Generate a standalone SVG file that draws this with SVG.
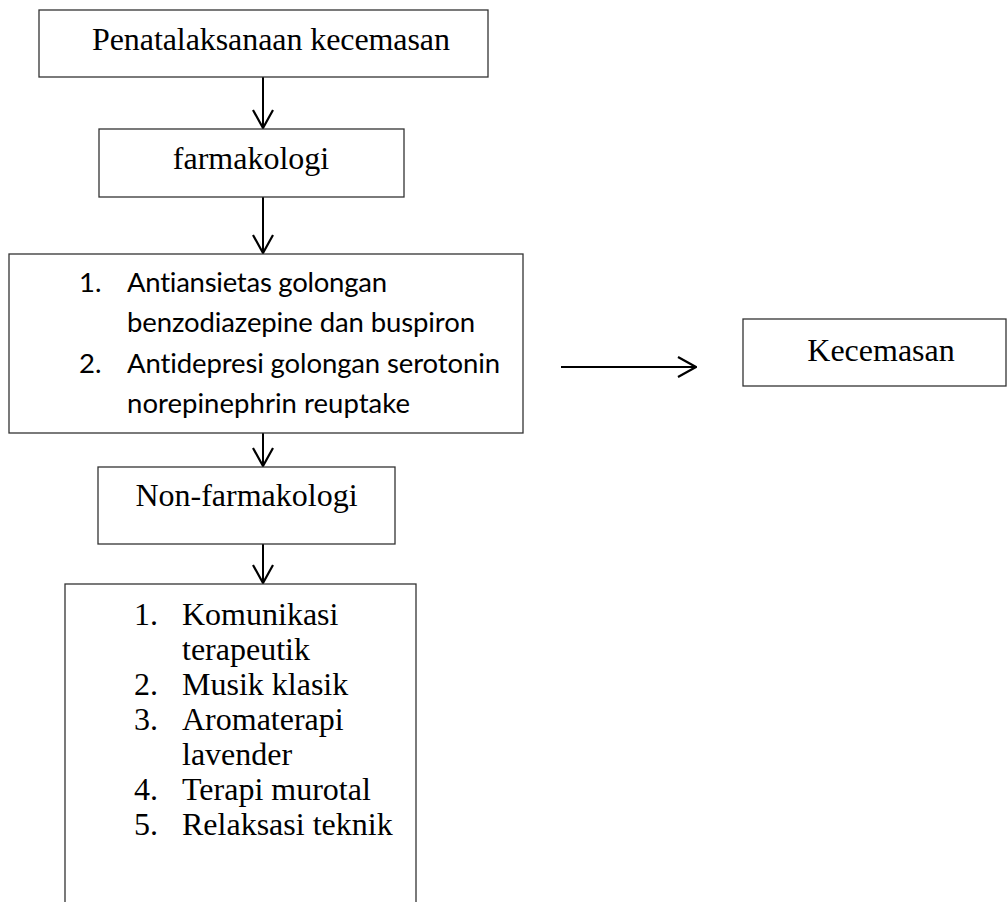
<svg xmlns="http://www.w3.org/2000/svg" width="1008" height="902" viewBox="0 0 1008 902">
<style>
.box{fill:#fff;stroke:#333;stroke-width:1.3}
.t{font-family:"Liberation Serif","Times New Roman",serif;font-size:32px;fill:#000}
.c{text-anchor:middle}
.s{font-family:Lato,"Open Sans",sans-serif;font-size:27.5px;fill:#000;font-variant-ligatures:none}
.conn{stroke:#000;stroke-width:2;fill:none}
</style>
<defs>
<marker id="ah" viewBox="0 0 20 22" refX="19" refY="11" markerWidth="20" markerHeight="22" markerUnits="userSpaceOnUse" orient="auto">
<path d="M1,1 L19,11 L1,21" fill="none" stroke="#000" stroke-width="2.2"/>
</marker>
</defs>
<rect width="1008" height="902" fill="#fff"/>
<g id="connectors">
<line class="conn" x1="263" y1="77" x2="263" y2="128" marker-end="url(#ah)"/>
<line class="conn" x1="263" y1="197" x2="263" y2="253" marker-end="url(#ah)"/>
<line class="conn" x1="263" y1="433" x2="263" y2="466" marker-end="url(#ah)"/>
<line class="conn" x1="263" y1="544" x2="263" y2="583" marker-end="url(#ah)"/>
<line class="conn" x1="561" y1="367" x2="696" y2="367" marker-end="url(#ah)"/>
</g>
<g id="penatalaksanaan">
<rect class="box" x="39" y="10" width="449" height="67"/>
<text class="t c" x="271" y="50" textLength="358">Penatalaksanaan kecemasan</text>
</g>
<g id="farmakologi">
<rect class="box" x="99" y="129" width="305" height="68"/>
<text class="t c" x="251" y="169">farmakologi</text>
</g>
<g id="obat">
<rect class="box" x="9" y="254" width="514" height="179"/>
<text class="s" x="79" y="292">1.</text>
<text class="s" x="127" y="292" textLength="260">Antiansietas golongan</text>
<text class="s" x="127" y="332" textLength="348">benzodiazepine dan buspiron</text>
<text class="s" x="79" y="373">2.</text>
<text class="s" x="127" y="373" textLength="373">Antidepresi golongan serotonin</text>
<text class="s" x="127" y="413" textLength="283">norepinephrin reuptake</text>
</g>
<g id="kecemasan">
<rect class="box" x="743" y="319" width="263" height="67"/>
<text class="t c" x="881" y="361">Kecemasan</text>
</g>
<g id="nonfarmakologi">
<rect class="box" x="98" y="467" width="297" height="77"/>
<text class="t c" x="246.5" y="506">Non-farmakologi</text>
</g>
<g id="terapi">
<rect class="box" x="65" y="584" width="351" height="340"/>
<text class="t" x="134" y="625">1.</text>
<text class="t" x="182" y="625">Komunikasi</text>
<text class="t" x="182" y="660">terapeutik</text>
<text class="t" x="134" y="695">2.</text>
<text class="t" x="182" y="695">Musik klasik</text>
<text class="t" x="134" y="730">3.</text>
<text class="t" x="182" y="730">Aromaterapi</text>
<text class="t" x="182" y="765">lavender</text>
<text class="t" x="134" y="800">4.</text>
<text class="t" x="182" y="800">Terapi murotal</text>
<text class="t" x="134" y="835">5.</text>
<text class="t" x="182" y="835">Relaksasi teknik</text>
</g>
</svg>
